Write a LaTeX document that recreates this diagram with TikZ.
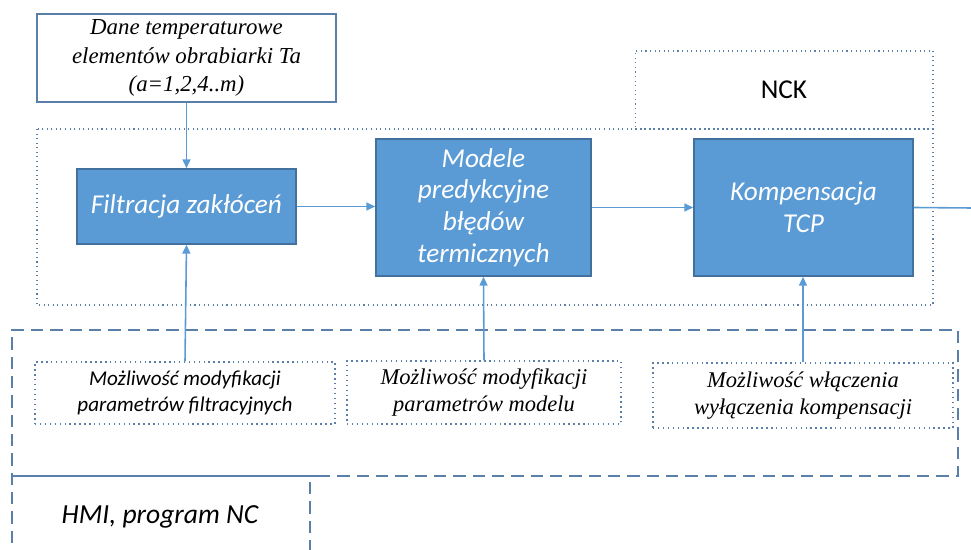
\documentclass[tikz,border=0pt]{standalone}
\usepackage{fontspec}
\setmainfont{Liberation Serif}
\newfontfamily\calib{Carlito}
\usetikzlibrary{arrows.meta,positioning}
\definecolor{BoxBlue}{HTML}{5B9BD5}
\definecolor{BoxEdge}{HTML}{41719C}
\definecolor{LineBlue}{HTML}{5B9BD5}
\definecolor{FrameBlue}{HTML}{5A7FA8}

\begin{document}
\begin{tikzpicture}[x=0.02cm,y=-0.02cm]
    \tikzset{blk/.style={draw=BoxEdge,fill=BoxBlue,line width=0.9pt,text=white,
      align=center,font=\calib\itshape\fontsize{15.5}{18}\selectfont,inner sep=2pt},
      par/.style={draw=FrameBlue,dotted,line width=0.8pt,align=center,
      font=\itshape\fontsize{12.8}{15}\selectfont},
      frm/.style={draw=FrameBlue,line width=0.6pt,dotted},
      hmiline/.style={draw=FrameBlue,line width=1.1pt,dash pattern=on 7pt off 4pt},
      con/.style={draw=LineBlue,line width=0.9pt,-{Triangle[length=5pt,width=4.5pt]}}}
    \useasboundingbox (0,0) rectangle (971,550);
    % NCK region and its label box
    \draw[frm] (37,129) rectangle (933,305);
    \node[frm,minimum width=5.96cm,minimum height=1.56cm,
      font=\calib\fontsize{15.5}{18}\selectfont] (nck) at (784,90) {NCK};
    % HMI region
    \draw[hmiline] (318,476) -- (958,476) -- (958,330) -- (12,330) -- (12,550);
    \draw[draw=FrameBlue,line width=1pt] (12,476) -- (318,476);
    \draw[hmiline] (310,482) -- (310,550);
    \node[font=\calib\itshape\fontsize{15.7}{18}\selectfont] (hmi) at (160,517) {HMI, program NC};
    % input data
    \node[draw=FrameBlue,line width=0.9pt,fill=white,minimum width=5.98cm,minimum height=1.76cm,
      align=center,font=\itshape\fontsize{13}{16}\selectfont] (dane) at (186.5,58)
      {Dane temperaturowe\\elementów obrabiarki Ta\\(a=1,2,4..m)};
    % processing chain
    \node[blk,minimum width=4.38cm,minimum height=1.5cm] (filtr) at (186.5,206.5) {Filtracja zakłóceń};
    \node[blk,minimum width=4.3cm,minimum height=2.74cm] (model) at (483.5,207.5)
      {Modele\\predykcyjne\\błędów\\termicznych};
    \node[blk,minimum width=4.38cm,minimum height=2.74cm] (komp) at (803.5,207.5) {Kompensacja\\TCP};
    \coordinate (wyj) at (971,208);
    % operator settings
    \node[par,minimum width=6cm,minimum height=1.24cm,font=\calib\itshape\fontsize{12}{15}\selectfont]
      (fpar) at (185,393) {Możliwość modyfikacji\\parametrów filtracyjnych};
    \node[par,minimum width=5.48cm,minimum height=1.26cm] (mpar) at (484,392.5)
      {Możliwość modyfikacji\\parametrów modelu};
    \node[par,minimum width=6cm,minimum height=1.3cm] (kpar) at (803,395.5)
      {Możliwość włączenia\\wyłączenia kompensacji};
    % connections
    \draw[con] (dane.south) -- (filtr.north);
    \draw[con] (filtr.east) -- (filtr.east -| model.west);
    \draw[con] (model.east) -- (komp.west);
    \draw[draw=LineBlue,line width=0.9pt] (komp.east) -- (wyj);
    \draw[con] (fpar.north) -- (filtr.south);
    \draw[con] (mpar.north) -- (model.south);
    \draw[con] (kpar.north) -- (kpar.north |- komp.south);
\end{tikzpicture}
\end{document}
